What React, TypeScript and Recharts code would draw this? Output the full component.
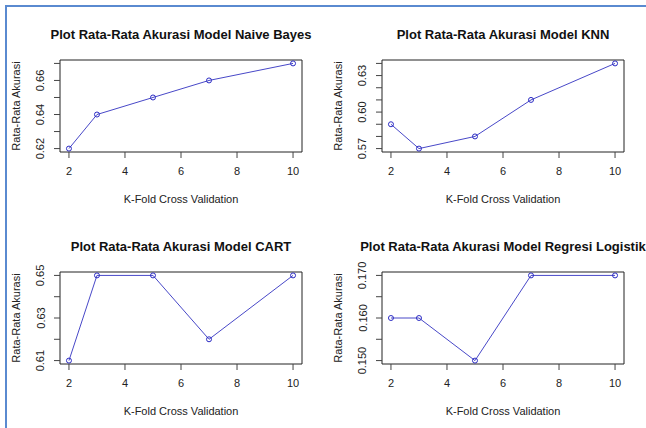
import React from "react";
import { LineChart, Line, XAxis, YAxis, ReferenceArea } from "recharts";

const kFolds = [2, 3, 5, 7, 10];
const naiveBayesAcc = [0.62, 0.64, 0.65, 0.66, 0.67];
const knnAcc = [0.59, 0.57, 0.58, 0.61, 0.64];
const cartAcc = [0.61, 0.65, 0.65, 0.62, 0.65];
const logRegAcc = [0.16, 0.16, 0.15, 0.17, 0.17];

const xTicks = [2, 4, 6, 8, 10];

const nbTicks = [0.62, 0.63, 0.64, 0.65, 0.66, 0.67];
const nbLabels = ["0.62", "", "0.64", "", "0.66", ""];
const knnTicks = [0.57, 0.58, 0.59, 0.6, 0.61, 0.62, 0.63, 0.64];
const knnLabels = ["0.57", "", "", "0.60", "", "", "0.63", ""];
const cartTicks = [0.61, 0.62, 0.63, 0.64, 0.65];
const cartLabels = ["0.61", "", "0.63", "", "0.65"];
const lrTicks = [0.15, 0.155, 0.16, 0.165, 0.17];
const lrLabels = ["0.150", "", "0.160", "", "0.170"];

const FONT = "'Liberation Sans', Arial, Helvetica, sans-serif";
const TEXT = "#222";
const LINE = "#4848c8";
const DOT = "#2c2cc4";

const W = 322;
const H = 212;

// R-style axis range: data range padded by 4% each side
function pad(vals: number[]): [number, number] {
  const lo = Math.min(...vals);
  const hi = Math.max(...vals);
  const d = (hi - lo) * 0.04;
  return [lo - d, hi + d];
}

function Panel({ ox, oy, title, values, yTicks, yLabels }: any) {
  const data = kFolds.map((k, i) => ({ k, acc: values[i] }));
  const xDom = pad(kFolds);
  const yDom = pad(values);

  return (
    <div style={{ position: "absolute", left: ox, top: oy, width: W, height: H }}>
      <div
        style={{
          position: "absolute",
          left: 181 - 200,
          top: 27,
          width: 400,
          textAlign: "center",
          fontFamily: FONT,
          fontWeight: "bold",
          fontSize: 13,
          lineHeight: "15px",
          color: "#111",
          whiteSpace: "nowrap",
        }}
      >
        {title}
      </div>
      <LineChart width={W} height={H} data={data} margin={{ top: 60, right: 20, bottom: 20, left: 20 }}>
        <XAxis
          dataKey="k"
          type="number"
          domain={xDom}
          ticks={xTicks}
          interval={0}
          height={40}
          axisLine={false}
          tickSize={6}
          tickLine={{ stroke: "#444" }}
          tick={(p: any) => (
            <text x={p.x} y={p.y + 15} textAnchor="middle" fontFamily={FONT} fontSize={11} fill={TEXT}>
              {p.payload.value}
            </text>
          )}
          label={(p: any) => {
            const vb = p.viewBox;
            return (
              <text x={vb.x + vb.width / 2} y={vb.y + 50.5} textAnchor="middle" fontFamily={FONT} fontSize={11} fill={TEXT}>
                K-Fold Cross Validation
              </text>
            );
          }}
        />
        <YAxis
          type="number"
          domain={yDom}
          ticks={yTicks}
          interval={0}
          width={40}
          axisLine={false}
          tickSize={6}
          tickLine={{ stroke: "#444" }}
          tick={(p: any) => {
            const lab = yLabels[p.index];
            if (!lab) return <g />;
            const tx = p.x - 7.5;
            return (
              <text
                x={tx}
                y={p.y}
                transform={`rotate(-90, ${tx}, ${p.y})`}
                textAnchor="middle"
                fontFamily={FONT}
                fontSize={11}
                fill={TEXT}
              >
                {lab}
              </text>
            );
          }}
          label={(p: any) => {
            const vb = p.viewBox;
            const tx = vb.x + vb.width - 40.5;
            const ty = vb.y + vb.height / 2;
            return (
              <text x={tx} y={ty} transform={`rotate(-90, ${tx}, ${ty})`} textAnchor="middle" fontFamily={FONT} fontSize={11} fill={TEXT}>
                Rata-Rata Akurasi
              </text>
            );
          }}
        />
        <ReferenceArea x1={xDom[0]} x2={xDom[1]} y1={yDom[0]} y2={yDom[1]} fill="none" stroke="#222" strokeWidth={1} fillOpacity={0} />
        <Line
          type="linear"
          dataKey="acc"
          stroke={LINE}
          strokeWidth={1}
          dot={{ r: 2.5, stroke: DOT, fill: "none", strokeWidth: 1 }}
          activeDot={false}
          isAnimationActive={false}
        />
      </LineChart>
    </div>
  );
}

export default function App() {
  return (
    <div style={{ position: "fixed", left: 0, top: 0, width: 646, height: 428, overflow: "hidden", background: "#fff" }}>
      <div
        style={{
          position: "absolute",
          left: 5,
          top: 5,
          width: 646,
          height: 428,
          borderTop: "2px solid #5a8ad0",
          borderLeft: "2px solid #5a8ad0",
        }}
      />
      <Panel ox={0} oy={0} title="Plot Rata-Rata Akurasi Model Naive Bayes" values={naiveBayesAcc} yTicks={nbTicks} yLabels={nbLabels} />
      <Panel ox={322} oy={0} title="Plot Rata-Rata Akurasi Model KNN" values={knnAcc} yTicks={knnTicks} yLabels={knnLabels} />
      <Panel ox={0} oy={212} title="Plot Rata-Rata Akurasi Model CART" values={cartAcc} yTicks={cartTicks} yLabels={cartLabels} />
      <Panel ox={322} oy={212} title="Plot Rata-Rata Akurasi Model Regresi Logistik" values={logRegAcc} yTicks={lrTicks} yLabels={lrLabels} />
    </div>
  );
}
